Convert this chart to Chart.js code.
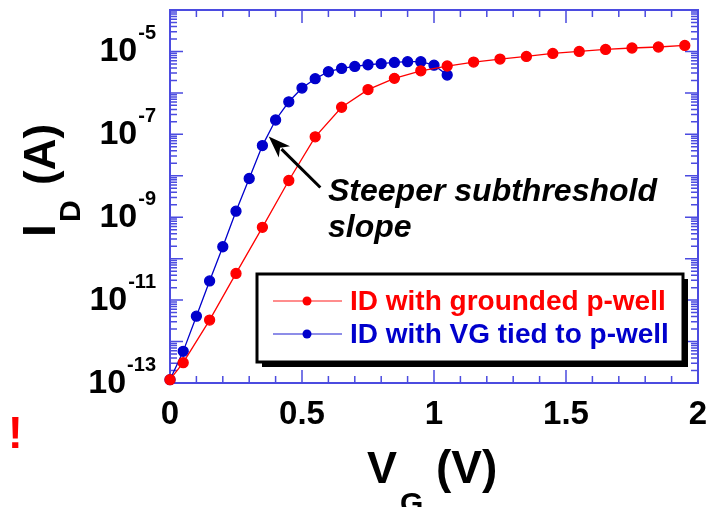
<!DOCTYPE html>
<html>
<head>
<meta charset="utf-8">
<script src="https://cdn.jsdelivr.net/npm/chart.js@4.4.0/dist/chart.umd.min.js"></script>
<style>
  body { margin: 0; background: #fff; }
  canvas { display: block; }
</style>
</head>
<body>
<canvas id="chart" width="716" height="507"></canvas>
<script>
// V_G sweep (V) and drain current (A)
const vgGrounded = [0, 0.05, 0.15, 0.25, 0.35, 0.45, 0.55, 0.65, 0.75, 0.85, 0.95,
  1.05, 1.15, 1.25, 1.35, 1.45, 1.55, 1.65, 1.75, 1.85, 1.95];
const idGrounded = [1.2e-13, 3.1e-13, 3.3e-12, 4.4e-11, 5.7e-10, 7.7e-9, 8.7e-8, 4.5e-7, 1.2e-6, 2.24e-6, 3.4e-6,
  4.45e-6, 5.55e-6, 6.56e-6, 7.58e-6, 8.95e-6, 1.0e-5, 1.12e-5, 1.21e-5, 1.28e-5, 1.4e-5];

const vgTied = [0, 0.05, 0.1, 0.15, 0.2, 0.25, 0.3, 0.35, 0.4, 0.45, 0.5,
  0.55, 0.6, 0.65, 0.7, 0.75, 0.8, 0.85, 0.9, 0.95, 1.0, 1.05];
const idTied = [1.2e-13, 5.8e-13, 4.1e-12, 2.9e-11, 1.94e-10, 1.4e-9, 8.6e-9, 5.35e-8, 2.22e-7, 6.1e-7, 1.31e-6,
  2.2e-6, 3.24e-6, 3.9e-6, 4.35e-6, 4.78e-6, 5.06e-6, 5.43e-6, 5.65e-6, 5.65e-6, 4.66e-6, 2.7e-6];

const seriesLabels = ["ID with grounded p-well", "ID with VG tied to p-well"];
const xTickLabels = ["0", "0.5", "1", "1.5", "2"];
const yTickExponents = [-5, -7, -9, -11, -13];

const FONT = '"Liberation Sans", Arial, sans-serif';
const AXIS = "#4b4be0";

function pts(xs, ys) { return xs.map((x, i) => ({ x: x, y: ys[i] })); }

const framePlugin = {
  id: "frame",
  beforeDatasetsDraw(chart) {
    const c = chart.ctx, a = chart.chartArea;
    const xs = chart.scales.x, ys = chart.scales.y;
    c.save();
    c.strokeStyle = AXIS;
    c.lineWidth = 1.5;
    // x ticks, top and bottom, inward
    for (let i = 0; i <= 20; i++) {
      const v = i / 10, px = xs.getPixelForValue(v);
      const len = i % 5 === 0 ? 13 : 7;
      c.beginPath();
      c.moveTo(px, a.bottom); c.lineTo(px, a.bottom - len);
      c.moveTo(px, a.top); c.lineTo(px, a.top + len);
      c.stroke();
    }
    // y ticks, left and right
    for (let e = -13; e <= -4; e++) {
      for (let m = 1; m <= 9; m++) {
        const v = m * Math.pow(10, e);
        if (v > 1.0001e-4) break;
        const py = ys.getPixelForValue(v);
        const len = m === 1 ? 13 : 7;
        c.beginPath();
        c.moveTo(a.left, py); c.lineTo(a.left + len, py);
        c.moveTo(a.right, py); c.lineTo(a.right - len, py);
        c.stroke();
      }
    }
    c.lineWidth = 2;
    c.strokeRect(a.left, a.top, a.right - a.left, a.bottom - a.top);

    // tick labels
    c.fillStyle = "#000";
    c.textBaseline = "alphabetic";
    c.font = "bold 33px " + FONT;
    c.textAlign = "center";
    xTickLabels.forEach(t => {
      c.fillText(t, xs.getPixelForValue(parseFloat(t)), 424);
    });
    yTickExponents.forEach(e => {
      const py = ys.getPixelForValue(Math.pow(10, e));
      const sup = String(e);
      c.font = "bold 20px " + FONT;
      const ws = c.measureText(sup).width;
      c.textAlign = "left";
      c.fillText(sup, 156 - ws, py - 12);
      c.font = "bold 34px " + FONT;
      c.textAlign = "right";
      c.fillText("10", 156 - ws - 1, py + 10);
    });

    // axis titles
    c.textAlign = "left";
    c.font = "bold 45px " + FONT;
    c.fillText("V", 367, 483);
    c.font = "bold 30px " + FONT;
    c.fillText("G", 400, 513);
    c.font = "bold 46px " + FONT;
    c.fillText("(V)", 436, 483);

    c.save();
    c.translate(55, 237);
    c.rotate(-Math.PI / 2);
    c.font = "bold 46px " + FONT;
    c.fillText("I", 0, 0);
    c.font = "bold 30px " + FONT;
    c.fillText("D", 15, 25);
    c.font = "bold 44px " + FONT;
    c.fillText("(A)", 52, 0);
    c.restore();

    c.fillStyle = "#ff0000";
    c.font = "bold 44px " + FONT;
    c.fillText("!", 8, 448);
    c.restore();
  },
  afterDraw(chart) {
    const c = chart.ctx;
    const xs = chart.scales.x, ys = chart.scales.y;
    c.save();
    // annotation arrow
    const tipX = xs.getPixelForValue(0.374), tipY = ys.getPixelForValue(8.9e-8);
    const tailX = xs.getPixelForValue(0.5695), tailY = ys.getPixelForValue(5.2e-9);
    const ang = Math.atan2(tipY - tailY, tipX - tailX);
    const hl = 22, hw = 8;
    const bx = tipX - hl * Math.cos(ang), by = tipY - hl * Math.sin(ang);
    c.strokeStyle = "#000";
    c.fillStyle = "#000";
    c.lineWidth = 3;
    c.beginPath();
    c.moveTo(tailX, tailY); c.lineTo(bx + 4 * Math.cos(ang), by + 4 * Math.sin(ang));
    c.stroke();
    c.beginPath();
    c.moveTo(tipX, tipY);
    c.lineTo(bx + hw * Math.sin(ang), by - hw * Math.cos(ang));
    c.lineTo(bx + 6 * Math.cos(ang), by + 6 * Math.sin(ang));
    c.lineTo(bx - hw * Math.sin(ang), by + hw * Math.cos(ang));
    c.closePath();
    c.fill();

    c.font = "italic bold 32px " + FONT;
    c.textAlign = "left";
    c.textBaseline = "alphabetic";
    c.fillText("Steeper subthreshold", 328, 201);
    c.fillText("slope", 328, 237);

    // legend box with shadow
    const L = 257, T = 274, R = 683, B = 362;
    c.fillStyle = "#000";
    c.fillRect(L + 5, T + 5, R - L, B - T);
    c.fillStyle = "#fff";
    c.fillRect(L, T, R - L, B - T);
    c.lineWidth = 3;
    c.strokeStyle = "#000";
    c.strokeRect(L, T, R - L, B - T);

    const rows = [301, 334];
    chart.data.datasets.forEach((ds, i) => {
      const y = rows[i];
      c.strokeStyle = ds.borderColor;
      c.globalAlpha = 0.6;
      c.lineWidth = 1.5;
      c.beginPath(); c.moveTo(273, y); c.lineTo(342, y); c.stroke();
      c.globalAlpha = 1;
      c.fillStyle = ds.pointBackgroundColor;
      c.beginPath(); c.arc(307, y, 4.5, 0, Math.PI * 2); c.fill();
      c.font = "bold 28px " + FONT;
      c.textBaseline = "middle";
      c.fillText(ds.label, 350, y + 1);
    });
    c.restore();
  }
};

new Chart(document.getElementById("chart"), {
  type: "line",
  data: {
    datasets: [
      {
        label: seriesLabels[0],
        data: pts(vgGrounded, idGrounded),
        borderColor: "#ff0000",
        backgroundColor: "#ff0000",
        pointBackgroundColor: "#ff0000",
        pointBorderColor: "#ff0000",
        borderWidth: 1.3,
        pointRadius: 5,
        clip: false
      },
      {
        label: seriesLabels[1],
        data: pts(vgTied, idTied),
        borderColor: "#0000cc",
        backgroundColor: "#0000cc",
        pointBackgroundColor: "#0000cc",
        pointBorderColor: "#0000cc",
        borderWidth: 1.3,
        pointRadius: 5,
        clip: false
      }
    ]
  },
  options: {
    responsive: false,
    animation: false,
    layout: { padding: { left: 170, right: 18, top: 10, bottom: 124 } },
    plugins: { legend: { display: false }, tooltip: { enabled: false } },
    scales: {
      x: { type: "linear", min: 0, max: 2, display: false },
      y: { type: "logarithmic", min: 1e-13, max: 1e-4, display: false }
    }
  },
  plugins: [framePlugin]
});
</script>
</body>
</html>
